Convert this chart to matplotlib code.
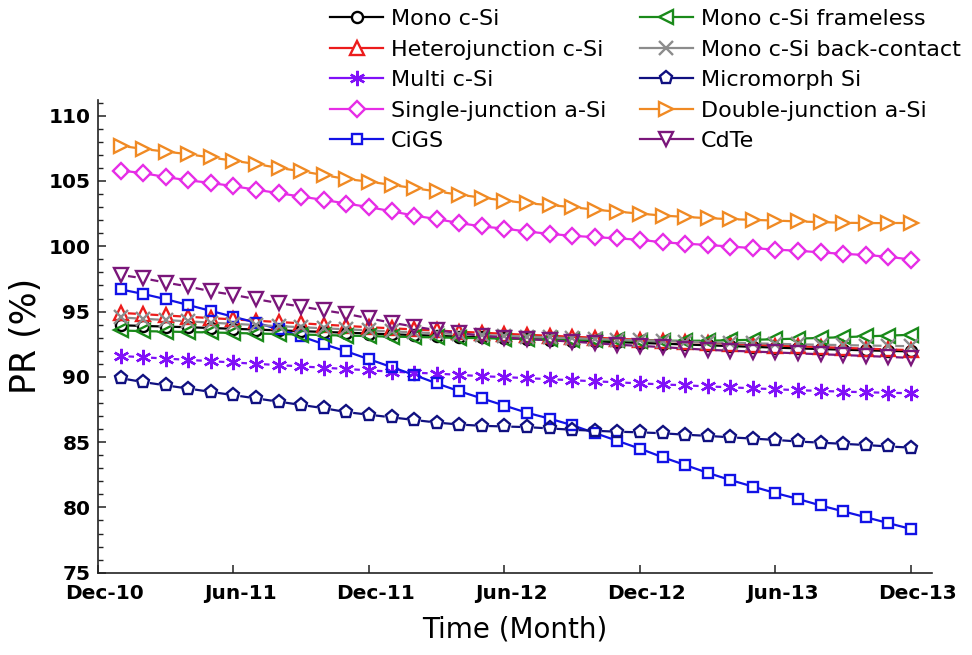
import numpy as np
import matplotlib
matplotlib.use("Agg")
import matplotlib.pyplot as plt
from matplotlib.lines import Line2D
from matplotlib.collections import LineCollection
import matplotlib.transforms as mtransforms

plt.rcParams["font.family"] = ["DejaVu Sans"]

# Months elapsed since Dec-2010 (Jan-11 ... Dec-13)
months = np.arange(1, 37)
tick_months = [0, 6, 12, 18, 24, 30, 36]
tick_labels = ["Dec-10", "Jun-11", "Dec-11", "Jun-12", "Dec-12", "Jun-13", "Dec-13"]

# Performance ratio (%) per technology, one value per month
mono_csi = [93.95, 93.9, 93.85, 93.8, 93.74, 93.68, 93.62, 93.56, 93.5, 93.44,
            93.38, 93.32, 93.26, 93.2, 93.14, 93.08, 93.02, 92.96, 92.9, 92.84,
            92.78, 92.72, 92.66, 92.6, 92.54, 92.48, 92.42, 92.36, 92.3, 92.24,
            92.18, 92.13, 92.08, 92.03, 91.99, 91.95]
hetero_csi = [94.9, 94.8, 94.7, 94.6, 94.5, 94.4, 94.3, 94.2, 94.1, 94.0,
              93.9, 93.8, 93.72, 93.63, 93.55, 93.46, 93.38, 93.3, 93.22, 93.15,
              93.07, 93.0, 92.92, 92.85, 92.77, 92.7, 92.62, 92.55, 92.47, 92.4,
              92.34, 92.28, 92.22, 92.16, 92.1, 92.05]
multi_csi = [91.6, 91.5, 91.4, 91.3, 91.2, 91.1, 91.0, 90.9, 90.8, 90.7,
             90.6, 90.5, 90.4, 90.32, 90.25, 90.15, 90.05, 89.98, 89.9, 89.82,
             89.74, 89.66, 89.58, 89.5, 89.42, 89.35, 89.27, 89.2, 89.12, 89.05,
             88.98, 88.92, 88.87, 88.82, 88.78, 88.75]
single_asi = [105.8, 105.6, 105.3, 105.05, 104.85, 104.6, 104.33, 104.07, 103.8, 103.55,
              103.27, 103.0, 102.68, 102.35, 102.08, 101.78, 101.52, 101.35, 101.13, 100.95,
              100.8, 100.7, 100.6, 100.5, 100.3, 100.2, 100.1, 99.98, 99.86, 99.74,
              99.66, 99.53, 99.42, 99.33, 99.2, 98.98]
cigs = [96.7, 96.35, 95.95, 95.5, 95.05, 94.6, 94.15, 93.65, 93.1, 92.5,
        91.95, 91.35, 90.75, 90.15, 89.5, 88.9, 88.35, 87.8, 87.25, 86.8,
        86.3, 85.7, 85.1, 84.5, 83.85, 83.25, 82.65, 82.1, 81.6, 81.1,
        80.65, 80.15, 79.7, 79.25, 78.8, 78.35]
mono_frameless = [93.55, 93.5, 93.47, 93.43, 93.4, 93.36, 93.32, 93.28, 93.24, 93.2,
                  93.16, 93.12, 93.08, 93.05, 93.02, 92.99, 92.96, 92.93, 92.9, 92.87,
                  92.84, 92.82, 92.8, 92.78, 92.77, 92.76, 92.77, 92.8, 92.84, 92.88,
                  92.93, 92.98, 93.04, 93.1, 93.16, 93.22]
mono_backcontact = [94.55, 94.45, 94.35, 94.25, 94.15, 94.06, 93.97, 93.88, 93.8, 93.72,
                    93.64, 93.56, 93.48, 93.41, 93.34, 93.27, 93.2, 93.14, 93.08, 93.02,
                    92.96, 92.9, 92.85, 92.8, 92.75, 92.7, 92.65, 92.61, 92.57, 92.53,
                    92.49, 92.46, 92.43, 92.4, 92.37, 92.35]
micromorph = [89.9, 89.6, 89.35, 89.1, 88.85, 88.6, 88.35, 88.1, 87.85, 87.6,
              87.3, 87.1, 86.9, 86.7, 86.5, 86.35, 86.25, 86.2, 86.15, 86.05,
              85.95, 85.87, 85.8, 85.75, 85.68, 85.57, 85.48, 85.37, 85.27, 85.17,
              85.05, 84.96, 84.87, 84.78, 84.67, 84.58]
double_asi = [107.7, 107.45, 107.25, 107.05, 106.8, 106.55, 106.3, 106.0, 105.75, 105.45,
              105.15, 104.95, 104.7, 104.45, 104.2, 103.95, 103.72, 103.5, 103.3, 103.15,
              103.0, 102.8, 102.65, 102.5, 102.35, 102.25, 102.15, 102.08, 102.02, 101.97,
              101.9, 101.85, 101.8, 101.78, 101.77, 101.77]
cdte = [97.8, 97.55, 97.22, 96.92, 96.55, 96.28, 95.95, 95.65, 95.38, 95.1,
        94.82, 94.48, 94.15, 93.85, 93.58, 93.35, 93.15, 93.0, 92.9, 92.8,
        92.7, 92.58, 92.46, 92.37, 92.28, 92.17, 92.07, 92.0, 91.94, 91.87,
        91.8, 91.73, 91.67, 91.6, 91.53, 91.45]

labels = ["Mono c-Si", "Heterojunction c-Si", "Multi c-Si", "Single-junction a-Si", "CiGS",
          "Mono c-Si frameless", "Mono c-Si back-contact", "Micromorph Si",
          "Double-junction a-Si", "CdTe"]
values = [mono_csi, hetero_csi, multi_csi, single_asi, cigs,
          mono_frameless, mono_backcontact, micromorph, double_asi, cdte]

# (colour, marker, marker size in pt, line style)
styles = [
    ("#000000", "o", 8.0, "-"),
    ("#ec1c1c", "^", 10.0, "-"),
    ("#8010f8", (6, 2, 0), 11.0, (0, (2.5, 1.6))),
    ("#e62de6", "D", 7.8, "-"),
    ("#1212e6", "s", 7.4, "-"),
    ("#1a8a1a", "<", 10.4, "-"),
    ("#8c8c8c", "x", 9.4, "-"),
    ("#101080", "p", 9.4, "-"),
    ("#f08a24", ">", 10.4, "-"),
    ("#7a167a", "v", 10.4, "-"),
]

DPI = 100
LW = 1.6
MEW = 1.7

fig = plt.figure(figsize=(9.72, 6.55), dpi=DPI)
ax = fig.add_axes([0.1008, 0.1256, 0.858, 0.7217])
ax.set_xlim(0, 36.93)
ax.set_ylim(75, 111.2)


def gapped_line(ax, x, y, color, gap_px, ls, z):
    """Connect points with segments that stop short of each symbol."""
    pts = ax.transData.transform(np.column_stack([x, y]))
    inv = ax.transData.inverted()
    segs = []
    for p0, p1 in zip(pts[:-1], pts[1:]):
        d = p1 - p0
        length = np.hypot(d[0], d[1])
        if length <= 2 * gap_px:
            continue
        u = d / length
        segs.append(inv.transform(np.vstack([p0 + u * gap_px, p1 - u * gap_px])))
    lc = LineCollection(segs, colors=color, linewidths=LW, linestyles=[ls], zorder=z,
                        capstyle="butt")
    ax.add_collection(lc)


for i, (vals, (col, mk, ms, ls)) in enumerate(zip(values, styles)):
    z = 2 + i * 0.1
    gap = ms * 0.5 * DPI / 72.0 + 0.3
    gapped_line(ax, months, vals, col, gap, ls, z)
    ax.plot(months, vals, ls="none", marker=mk, ms=ms, mfc="none", mec=col,
            mew=MEW, zorder=z + 0.05)

# Axes styling
for side in ("top", "right"):
    ax.spines[side].set_visible(False)
for side in ("left", "bottom"):
    ax.spines[side].set_linewidth(1.2)
    ax.spines[side].set_color("#222222")

ax.set_xticks(tick_months)
ax.set_xticklabels(tick_labels)
ax.set_yticks(np.arange(75, 111, 5))
ax.set_yticks(np.arange(75, 112, 1), minor=True)
ax.tick_params(axis="both", which="major", direction="in", length=6, width=1.1,
               labelsize=14.5, color="#222222")
ax.tick_params(axis="y", which="minor", direction="in", length=3.5, width=1.0,
               color="#222222")
ax.tick_params(axis="x", which="major", pad=8)
ax.tick_params(axis="y", which="major", pad=5.5)
for lab in ax.get_xticklabels() + ax.get_yticklabels():
    lab.set_fontweight("bold")
shift = mtransforms.ScaledTranslation(7 / DPI, 0, fig.dpi_scale_trans)
for lab in ax.get_xticklabels():
    lab.set_transform(lab.get_transform() + shift)

ax.set_xlabel("Time (Month)", fontsize=20, labelpad=9)
ax.set_ylabel("PR (%)", fontsize=25, labelpad=4)

handles = [Line2D([], [], color=col, marker=mk, ms=ms, mfc="white", mec=col,
                  mew=MEW, lw=LW, ls="-")
           for (col, mk, ms, ls) in styles]
fig.legend(handles, labels, loc="upper left", bbox_to_anchor=(0.3395, 0.986),
           ncol=2, frameon=False, fontsize=16, handlelength=2.4,
           handletextpad=0.35, columnspacing=1.5, labelspacing=0.47,
           borderpad=0, borderaxespad=0, numpoints=1)

fig.savefig("out.png", dpi=DPI)
